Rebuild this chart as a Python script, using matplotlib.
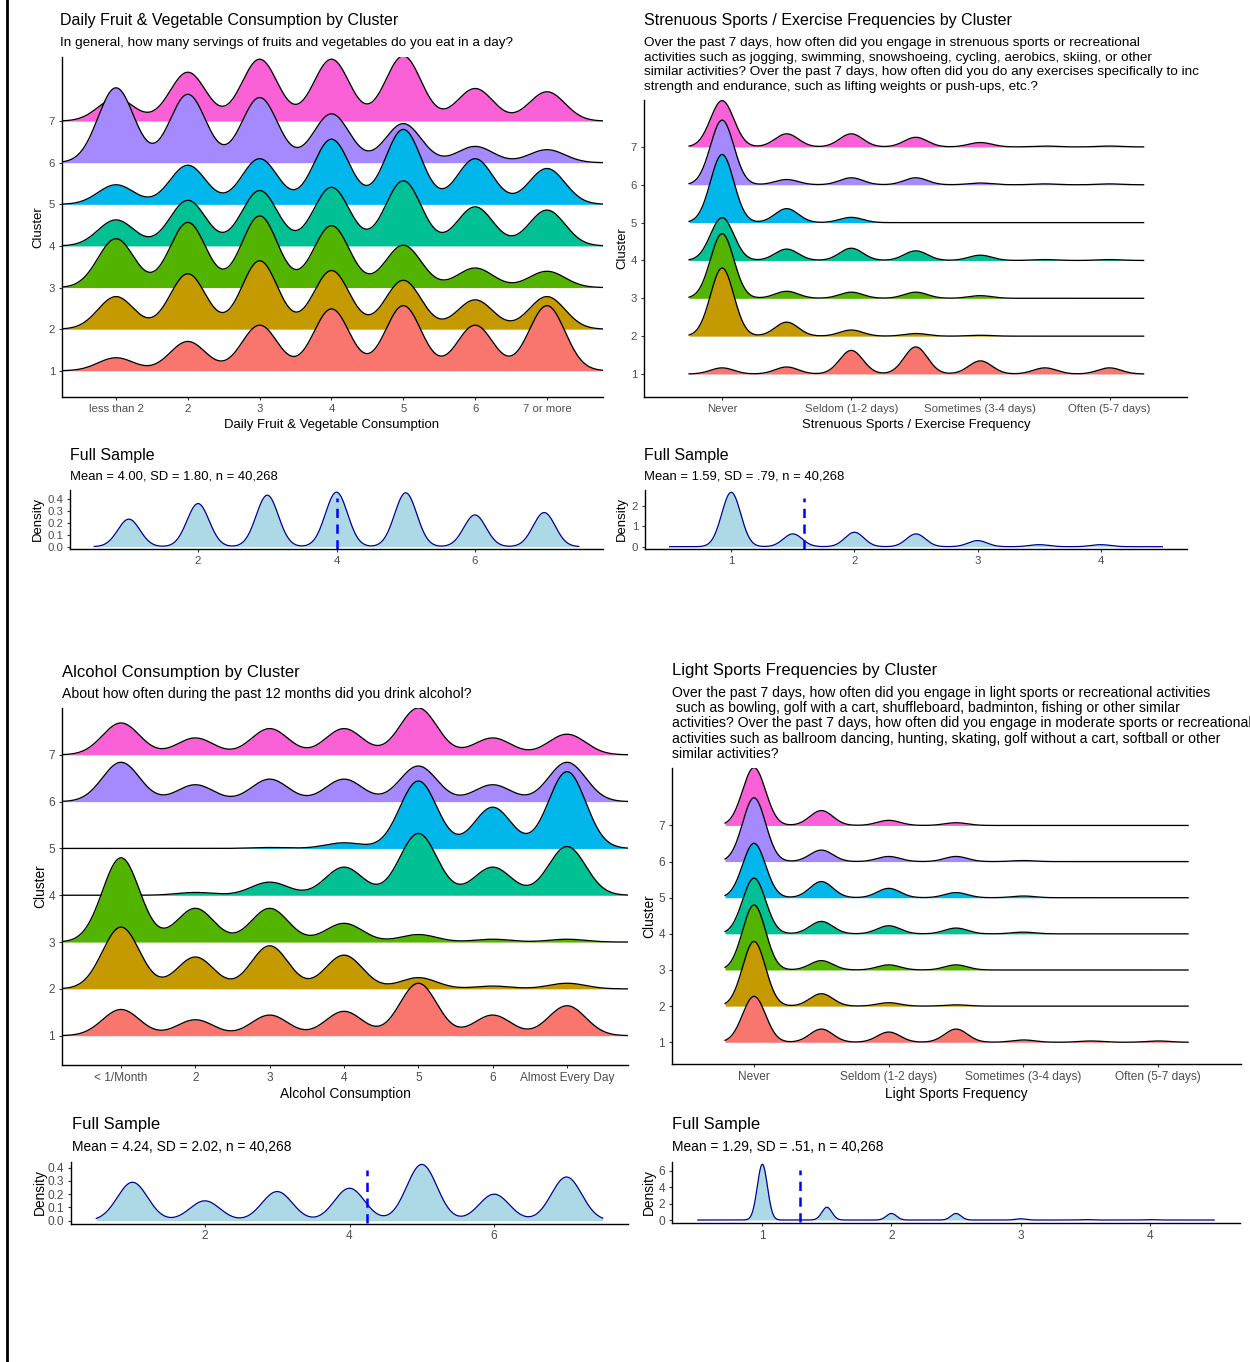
import numpy as np
import matplotlib
matplotlib.use("Agg")
import matplotlib.pyplot as plt
from matplotlib.lines import Line2D

plt.rcParams['font.family'] = ['Liberation Sans', 'DejaVu Sans']

W, H = 1250, 1362

CLUSTERS = [1, 2, 3, 4, 5, 6, 7]
COLORS = ['#F8766D', '#C49A00', '#53B400', '#00C094', '#00B6EB', '#A58AFF', '#FB61D7']

# --- fruit & vegetable (percent of cluster in each answer, cluster 1 first)
fruit_x = [1, 2, 3, 4, 5, 6, 7]
fruit_labels = ['less than 2', '2', '3', '4', '5', '6', '7 or more']
fruit_pct = [
    [4, 9, 14, 19, 20, 14, 20],
    [10, 17, 21, 18, 15, 9, 10],
    [15, 20, 22, 19, 13, 6, 5],
    [8, 14, 17, 18, 20, 12, 11],
    [6, 12, 14, 20, 23, 14, 11],
    [23, 21, 20, 15, 12, 5, 4],
    [7, 15, 19, 19, 20, 10, 9],
]
fruit_full = [0.23, 0.36, 0.43, 0.455, 0.45, 0.265, 0.285]
fruit_mean = 4.00

# --- strenuous sports (average of two items -> half steps)
sport_x = [1, 1.5, 2, 2.5, 3, 3.5, 4]
sport_ticks = [1, 2, 3, 4]
sport_labels = ['Never', 'Seldom (1-2 days)', 'Sometimes (3-4 days)', 'Often (5-7 days)']
sport_pct = [
    [7, 8, 27, 31, 15, 7, 7],
    [78, 16, 7, 3, 1, 0, 0],
    [74, 8, 7, 7, 3, 0, 0],
    [49, 13, 14, 11, 6, 1, 1],
    [78, 16, 6, 0, 0, 0, 0],
    [74, 6, 8, 8, 2, 1, 1],
    [53, 15, 15, 11, 5, 1, 1],
]
sport_full = [2.68, 0.63, 0.71, 0.63, 0.30, 0.10, 0.10]
sport_mean = 1.59

# --- alcohol
alc_x = [1, 2, 3, 4, 5, 6, 7]
alc_labels = ['< 1/Month', '2', '3', '4', '5', '6', 'Almost Every Day']
alc_pct = [
    [14, 8.5, 11, 13, 28, 11, 16],
    [33, 17, 23, 18, 6, 1.5, 3],
    [45, 18, 18, 10, 4, 1.5, 1.5],
    [0, 1.5, 7, 15, 33, 15, 26],
    [0, 0, 0.5, 3, 36, 22, 41],
    [21, 9, 12, 12, 19, 9, 21],
    [17, 9, 14, 14, 25, 9, 11],
]
alc_full = [0.29, 0.15, 0.22, 0.245, 0.425, 0.20, 0.33]
alc_mean = 4.24

# --- light sports
light_x = [1, 1.5, 2, 2.5, 3, 3.5, 4]
light_pct = [
    [54, 15.5, 12, 15.5, 2.7, 1.5, 1.5],
    [76, 14.6, 4, 1.5, 0, 0, 0],
    [76.5, 11, 6, 6, 0, 0, 0],
    [65.5, 14.6, 9.5, 6.8, 2, 0, 0],
    [64, 19, 11, 6, 2, 0, 0],
    [75, 13.5, 6, 6, 1.2, 0, 0],
    [68, 17.5, 6, 3.2, 0, 0, 0],
]
light_full = [6.8, 1.55, 0.8, 0.8, 0.15, 0.05, 0.05]
light_mean = 1.29

TXT = '#4D4D4D'
fig = plt.figure(figsize=(W / 100, H / 100), dpi=100)

# font sizes per row: title, subtitle, axis title, tick labels, stats line
TOP = dict(title=11.5, sub=9.7, axt=9.45, tick=8.2, stat=9.4)
BOT = dict(title=12.0, sub=10.05, axt=9.9, tick=8.6, stat=9.9)


def ax_px(l, t, r, b):
    return fig.add_axes([l / W, 1 - b / H, (r - l) / W, (b - t) / H])


def ftext(x, y, s, size, **kw):
    kw.setdefault('ha', 'left')
    fig.text(x / W, 1 - y / H, s, fontsize=size, va='center', color=kw.pop('color', 'black'), **kw)


def style(ax, tick):
    ax.patch.set_alpha(0)
    for s in ['top', 'right']:
        ax.spines[s].set_visible(False)
    for s in ['left', 'bottom']:
        ax.spines[s].set_linewidth(1.0)
        ax.spines[s].set_color('black')
    ax.tick_params(length=2.5, width=0.8, color='#333333', labelcolor=TXT, labelsize=tick, pad=2.5)


def bumps(x, centers, weights, sigma):
    c = np.array(centers)[:, None]
    w = np.array(weights, dtype=float)[:, None]
    return (w * np.exp(-0.5 * ((x[None, :] - c) / sigma) ** 2)).sum(0)


def ridge(ax, centers, pct, sigma, xr, xlim, ylim, ticks, labels, tick, scale=1.8):
    x = np.linspace(xr[0], xr[1], 800)
    curves = [bumps(x, centers, p, sigma) for p in pct]
    m = max(c.max() for c in curves)
    for i in reversed(range(len(CLUSTERS))):
        y0 = CLUSTERS[i]
        h = curves[i] / m * scale
        z = 10 + (7 - i) * 2
        ax.fill_between(x, y0, y0 + h, color=COLORS[i], lw=0, zorder=z)
        ax.plot(x, y0 + h, color='black', lw=0.95, zorder=z + 1)
    ax.set_xlim(*xlim)
    ax.set_ylim(*ylim)
    ax.set_xticks(ticks)
    ax.set_xticklabels(labels)
    ax.set_yticks(CLUSTERS)
    style(ax, tick)


def full(ax, centers, peaks, sigma, mean, xr, xticks, yticks, yfmt, tick):
    x = np.linspace(xr[0], xr[1], 800)
    d = bumps(x, centers, peaks, sigma)
    m = d.max()
    ax.fill_between(x, 0, d, color='#ADD8E6', lw=0)
    ax.plot(x, d, color='#00008B', lw=0.9)
    ax.plot([mean, mean], [-0.04 * m, 0.9 * m], color='blue', lw=1.8,
            linestyle=(0, (3.7, 2.6)))
    span = xr[1] - xr[0]
    ax.set_xlim(xr[0] - 0.05 * span, xr[1] + 0.05 * span)
    ax.set_ylim(-0.05 * m, 1.05 * m)
    ax.set_xticks(xticks)
    ax.set_yticks(yticks)
    ax.set_yticklabels([yfmt.format(v) for v in yticks])
    style(ax, tick)


# ---------------- top left
S = TOP
ax = ax_px(62, 57, 603, 397)
ridge(ax, fruit_x, fruit_pct, 0.25, (0.248, 7.78), (0.248, 7.78), (0.37, 8.54),
      fruit_x, fruit_labels, S['tick'])
ftext(60, 21, 'Daily Fruit & Vegetable Consumption by Cluster', S['title'])
ftext(60, 43, 'In general, how many servings of fruits and vegetables do you eat in a day?', S['sub'])
ftext(332, 425, 'Daily Fruit & Vegetable Consumption', S['axt'], ha='center')
ftext(38, 227, 'Cluster', S['axt'], ha='center', rotation=90)

ax = ax_px(70, 489.5, 603, 549.4)
full(ax, fruit_x, fruit_full, 0.16, fruit_mean, (0.5, 7.5), [2, 4, 6],
     [0, 0.1, 0.2, 0.3, 0.4], '{:.1f}', S['tick'])
ftext(70, 455, 'Full Sample', S['title'])
ftext(70, 476, 'Mean = 4.00, SD = 1.80, n = 40,268', S['stat'])
ftext(38, 519, 'Density', S['axt'], ha='center', rotation=90)

# ---------------- top right
ax = ax_px(644, 100, 1187, 397)
ridge(ax, sport_x, sport_pct, 0.09, (0.744, 4.264), (0.395, 4.60), (0.392, 8.24),
      sport_ticks, sport_labels, S['tick'])
ftext(644, 21, 'Strenuous Sports / Exercise Frequencies by Cluster', S['title'])
sport_sub = [
    'Over the past 7 days, how often did you engage in strenuous sports or recreational',
    'activities such as jogging, swimming, snowshoeing, cycling, aerobics, skiing, or other',
    'similar activities? Over the past 7 days, how often did you do any exercises specifically to inc',
    'strength and endurance, such as lifting weights or push-ups, etc.?',
]
for k, line in enumerate(sport_sub):
    ftext(644, 43.3 + 14.45 * k, line, S['sub'])
ftext(916, 425, 'Strenuous Sports / Exercise Frequency', S['axt'], ha='center')
ftext(622, 248, 'Cluster', S['axt'], ha='center', rotation=90)

ax = ax_px(645, 489.6, 1187, 549.4)
full(ax, sport_x, sport_full, 0.077, sport_mean, (0.5, 4.5), [1, 2, 3, 4],
     [0, 1, 2], '{:d}', S['tick'])
ftext(644, 455, 'Full Sample', S['title'])
ftext(644, 476, 'Mean = 1.59, SD = .79, n = 40,268', S['stat'])
ftext(622, 519, 'Density', S['axt'], ha='center', rotation=90)

# ---------------- bottom left
S = BOT
ax = ax_px(62, 708, 628, 1065)
ridge(ax, alc_x, alc_pct, 0.25, (0.206, 7.82), (0.206, 7.82), (0.374, 8.0),
      alc_x, alc_labels, S['tick'])
ftext(62, 672, 'Alcohol Consumption by Cluster', S['title'])
ftext(62, 694, 'About how often during the past 12 months did you drink alcohol?', S['sub'])
ftext(345, 1094, 'Alcohol Consumption', S['axt'], ha='center')
ftext(40, 886, 'Cluster', S['axt'], ha='center', rotation=90)

ax = ax_px(71, 1161.6, 628, 1223.5)
full(ax, alc_x, alc_full, 0.21, alc_mean, (0.5, 7.5), [2, 4, 6],
     [0, 0.1, 0.2, 0.3, 0.4], '{:.1f}', S['tick'])
ftext(72, 1125, 'Full Sample', S['title'])
ftext(72, 1147, 'Mean = 4.24, SD = 2.02, n = 40,268', S['stat'])
ftext(40, 1192, 'Density', S['axt'], ha='center', rotation=90)

# ---------------- bottom right
ax = ax_px(672, 768, 1241, 1064.3)
ridge(ax, light_x, light_pct, 0.085, (0.785, 4.222), (0.391, 4.615), (0.39, 8.59),
      sport_ticks, sport_labels, S['tick'])
ftext(672, 670, 'Light Sports Frequencies by Cluster', S['title'])
light_sub = [
    'Over the past 7 days, how often did you engage in light sports or recreational activities',
    ' such as bowling, golf with a cart, shuffleboard, badminton, fishing or other similar',
    'activities? Over the past 7 days, how often did you engage in moderate sports or recreational',
    'activities such as ballroom dancing, hunting, skating, golf without a cart, softball or other',
    'similar activities?',
]
for k, line in enumerate(light_sub):
    ftext(672, 692.7 + 15.3 * k, line, S['sub'])
ftext(956, 1094, 'Light Sports Frequency', S['axt'], ha='center')
ftext(649, 916, 'Cluster', S['axt'], ha='center', rotation=90)

ax = ax_px(672, 1161.5, 1240, 1222.8)
full(ax, light_x, light_full, 0.039, light_mean, (0.5, 4.5), [1, 2, 3, 4],
     [0, 2, 4, 6], '{:d}', S['tick'])
ftext(672, 1124, 'Full Sample', S['title'])
ftext(672, 1147, 'Mean = 1.29, SD = .51, n = 40,268', S['stat'])
ftext(649, 1192, 'Density', S['axt'], ha='center', rotation=90)

# left border of the exported page
fig.add_artist(Line2D([7.3 / W, 7.3 / W], [0, 1], color='black', lw=2.0))

fig.savefig('out.png', dpi=100)
